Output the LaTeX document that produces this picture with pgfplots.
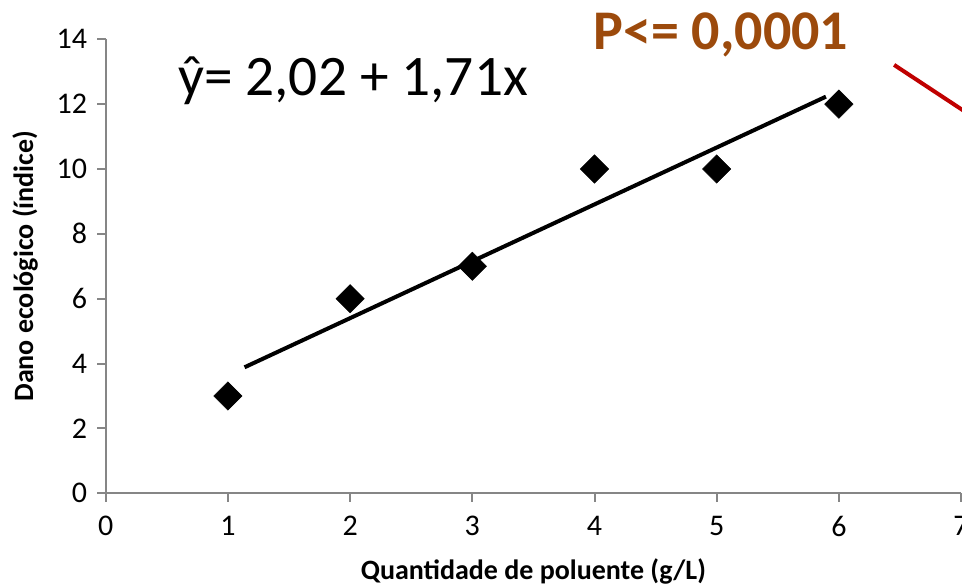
\documentclass[border=0pt]{standalone}
\usepackage{pgfplots}
\pgfplotsset{compat=1.18}
\usepackage{fontspec}
\setmainfont{Carlito}
\definecolor{axgray}{RGB}{134,134,134}
\definecolor{pbrown}{RGB}{156,74,12}
\definecolor{arrowred}{RGB}{192,0,0}
\begin{document}
\begin{tikzpicture}
\path[use as bounding box] (-79.3pt,-70.3pt) rectangle ++(721.5pt,440.25pt);
\begin{axis}[
  at={(0,0)}, anchor=origin,
  scale only axis,
  width=641.5pt, height=340.5pt,
  xmin=0, xmax=7, ymin=0, ymax=14,
  xtick={0,1,...,7}, ytick={0,2,...,14},
  axis x line*=bottom, axis y line*=left,
  axis line style={axgray, line width=1.5pt, -},
  tick style={axgray, line width=1.5pt},
  tick align=outside, major tick length=6.5pt,
  /pgf/number format/assume math mode=true,
  ticklabel style={font=\fontsize{22.5}{27}\selectfont, text=black},
  yticklabel style={xshift=-4pt},
  xticklabel style={yshift=-7pt},
  xlabel={\textbf{Quantidade de poluente (g/L)}},
  ylabel={\textbf{Dano ecológico (índice)}},
  label style={font=\fontsize{21}{25}\selectfont},
  xlabel style={at={([yshift=-65pt]axis description cs:0.5,0)}, anchor=base},
  ylabel style={at={([xshift=-54.5pt]axis description cs:0,0.5)}, rotate=0, anchor=base},
  clip=false,
]
\addplot[only marks, mark=square*, mark size=7.5pt, mark options={rotate=45, fill=black, draw=black}]
  coordinates {(1,3) (2,6) (3,7) (4,10) (5,10) (6,12)};
\addplot[black, line width=3pt, no marks]
  coordinates {(1.136,3.885) (5.894,12.23)};
\node[anchor=base west, inner sep=0pt, font=\fontsize{43}{50}\selectfont] at (axis cs:0.59,12.27) {ŷ= 2,02 + 1,71x};
\node[anchor=base west, inner sep=0pt, font=\fontsize{42}{50}\selectfont\bfseries, text=pbrown] at (axis cs:3.99,13.67) {P<= 0,0001};
\draw[arrowred, line width=3pt] (axis cs:6.452,13.21) -- (axis cs:7.1,11.6);
\end{axis}
\end{tikzpicture}
\end{document}
